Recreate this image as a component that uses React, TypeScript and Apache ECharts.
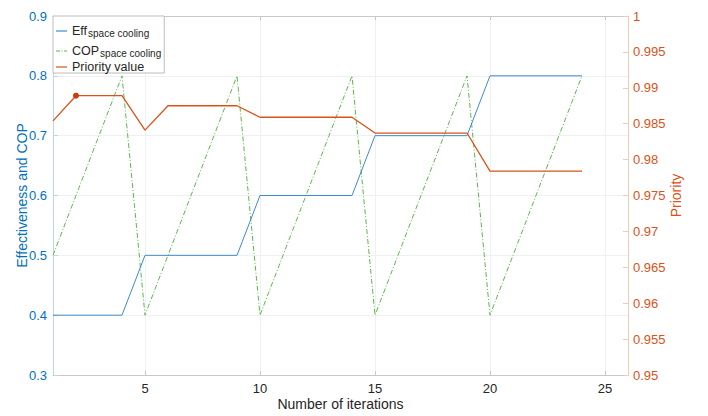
import React, { useEffect, useRef } from "react";
import * as echarts from "echarts";

const iterations = [1, 2, 3, 4, 5, 6, 7, 8, 9, 10, 11, 12, 13, 14, 15, 16, 17, 18, 19, 20, 21, 22, 23, 24];
const effValues = [0.4, 0.4, 0.4, 0.4, 0.5, 0.5, 0.5, 0.5, 0.5, 0.6, 0.6, 0.6, 0.6, 0.6, 0.7, 0.7, 0.7, 0.7, 0.7, 0.8, 0.8, 0.8, 0.8, 0.8];
const copValues = [0.5, 0.6, 0.7, 0.8, 0.4, 0.5, 0.6, 0.7, 0.8, 0.4, 0.5, 0.6, 0.7, 0.8, 0.4, 0.5, 0.6, 0.7, 0.8, 0.4, 0.5, 0.6, 0.7, 0.8];
const priorityValues = [0.9854, 0.9889, 0.9889, 0.9889, 0.9841, 0.9875, 0.9875, 0.9875, 0.9875, 0.9859, 0.9859, 0.9859, 0.9859, 0.9859, 0.9837, 0.9837, 0.9837, 0.9837, 0.9837, 0.9784, 0.9784, 0.9784, 0.9784, 0.9784];
const xTickValues = [5, 10, 15, 20, 25];
const maxPriorityIteration = 2;

const seriesNames = ["Eff space cooling", "COP space cooling", "Priority value"];

const FONT = "'Liberation Sans', Arial, Helvetica, sans-serif";
const BLUE = "#0072BD";
const ORANGE = "#D95319";

const SOLID_ICON = "path://M0,0h11v1.2h-11z";
const DASHDOT_ICON = "path://M0,0h4v1.2h-4z M5.5,0h1v1.2h-1z M8,0h3v1.2h-3z";

export default function App() {
  const ref = useRef<HTMLDivElement>(null);
  useEffect(() => {
    if (!ref.current) return;
    const chart = echarts.init(ref.current, undefined, { renderer: "svg" });
    const pair = (vals: number[]) => iterations.map((x, i) => [x, vals[i]]);
    const option: any = {
      animation: false,
      backgroundColor: "#ffffff",
      textStyle: { fontFamily: FONT },
      grid: { left: 53, right: 80, top: 16, bottom: 40 },
      legend: {
        orient: "vertical",
        left: 53,
        top: 16,
        padding: [4, 3, 0, 3],
        itemGap: 2,
        itemWidth: 11,
        itemHeight: 10,
        backgroundColor: "#ffffff",
        borderColor: "#bdbdbd",
        borderWidth: 1,
        borderRadius: 0,
        data: [
          { name: seriesNames[0], icon: SOLID_ICON },
          { name: seriesNames[1], icon: DASHDOT_ICON },
          { name: seriesNames[2], icon: SOLID_ICON },
        ],
        formatter: (name: string) => {
          if (name === seriesNames[0]) return "{m|Eff}{s|space cooling}";
          if (name === seriesNames[1]) return "{m|COP}{s|space cooling}";
          return "{m|Priority value}";
        },
        textStyle: {
          fontFamily: FONT,
          color: "#262626",
          rich: {
            m: { fontSize: 12.5, lineHeight: 14, verticalAlign: "top", color: "#262626", fontFamily: FONT },
            s: { fontSize: 10, lineHeight: 10, padding: [8, 0, 0, 1], verticalAlign: "bottom", color: "#262626", fontFamily: FONT },
          },
        },
      },
      xAxis: [
        {
          type: "value",
          min: 1,
          max: 26,
          position: "bottom",
          name: "Number of iterations",
          nameLocation: "middle",
          nameGap: 22,
          nameMoveOverlap: false,
          nameTextStyle: { fontSize: 14, color: "#262626", fontFamily: FONT },
          axisLine: { show: true, lineStyle: { color: "#c8c8c8", width: 1 } },
          axisTick: { show: true, inside: true, length: 4, customValues: xTickValues, lineStyle: { color: "#c8c8c8" } },
          axisLabel: { customValues: xTickValues, color: "#262626", fontSize: 13, margin: 7, fontFamily: FONT },
          splitLine: { show: true, lineStyle: { color: "#eef1f4", width: 1 } },
        },
        {
          type: "value",
          min: 1,
          max: 26,
          position: "top",
          axisLine: { show: true, lineStyle: { color: "#c8c8c8", width: 1 } },
          axisTick: { show: true, inside: true, length: 4, customValues: xTickValues, lineStyle: { color: "#c8c8c8" } },
          axisLabel: { show: false },
          splitLine: { show: false },
        },
      ],
      yAxis: [
        {
          type: "value",
          min: 0.3,
          max: 0.9,
          interval: 0.1,
          position: "left",
          name: "Effectiveness and COP",
          nameLocation: "middle",
          nameGap: 24,
          nameMoveOverlap: false,
          nameTextStyle: { fontSize: 14, color: BLUE, fontFamily: FONT },
          axisLine: { show: true, lineStyle: { color: "#bcd6ec", width: 1 } },
          axisTick: { show: true, inside: true, length: 5, lineStyle: { color: "#bcd6ec" } },
          axisLabel: {
            color: BLUE,
            fontSize: 13,
            margin: 6,
            fontFamily: FONT,
            formatter: (v: number) => String(parseFloat(v.toFixed(2))),
          },
          splitLine: { show: true, lineStyle: { color: "#eef1f4", width: 1 } },
        },
        {
          type: "value",
          min: 0.95,
          max: 1,
          interval: 0.005,
          position: "right",
          name: "Priority",
          nameLocation: "middle",
          nameGap: 41,
          nameMoveOverlap: false,
          nameTextStyle: { fontSize: 14, color: ORANGE, fontFamily: FONT },
          axisLine: { show: true, lineStyle: { color: "#f6c9b5", width: 1 } },
          axisTick: { show: true, inside: true, length: 5, lineStyle: { color: "#f6c9b5" } },
          axisLabel: {
            color: ORANGE,
            fontSize: 13,
            margin: 5,
            fontFamily: FONT,
            formatter: (v: number) => String(parseFloat(v.toFixed(3))),
          },
          splitLine: { show: false },
        },
      ],
      series: [
        {
          name: seriesNames[0],
          type: "line",
          xAxisIndex: 0,
          yAxisIndex: 0,
          data: pair(effValues),
          symbol: "none",
          color: "#3d8bcd",
          lineStyle: { color: "#3d8bcd", width: 1 },
          z: 3,
        },
        {
          name: seriesNames[1],
          type: "line",
          xAxisIndex: 0,
          yAxisIndex: 0,
          data: pair(copValues),
          symbol: "none",
          color: "#5cb84a",
          lineStyle: { color: "#5cb84a", width: 1, type: [5, 2, 1, 2] },
          z: 2,
        },
        {
          name: seriesNames[2],
          type: "line",
          xAxisIndex: 0,
          yAxisIndex: 1,
          data: pair(priorityValues),
          symbol: "none",
          color: ORANGE,
          lineStyle: { color: ORANGE, width: 1.3 },
          z: 4,
          markPoint: {
            symbol: "circle",
            symbolSize: 6,
            itemStyle: { color: "#d2380f" },
            label: { show: false },
            data: [
              {
                coord: [maxPriorityIteration, priorityValues[iterations.indexOf(maxPriorityIteration)]],
              },
            ],
          },
        },
      ],
    };
    chart.setOption(option);
    return () => chart.dispose();
  }, []);
  return (
    <div
      ref={ref}
      style={{ position: "fixed", left: 0, top: 0, width: 708, height: 416, background: "#ffffff" }}
    />
  );
}
